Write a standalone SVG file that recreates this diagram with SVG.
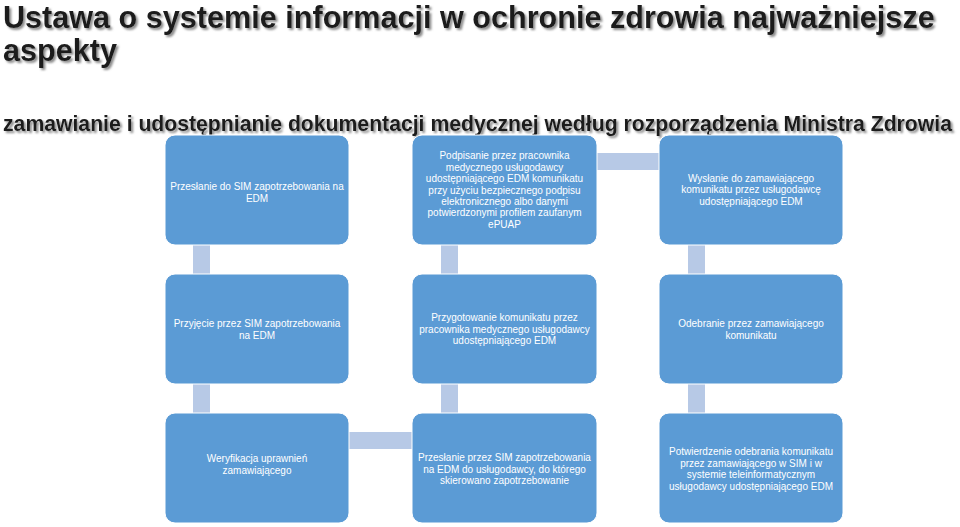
<svg xmlns="http://www.w3.org/2000/svg" width="960" height="527" viewBox="0 0 960 527">
<defs>
<filter id="sh" x="-5%" y="-20%" width="110%" height="150%">
<feDropShadow dx="2" dy="2" stdDeviation="0.8" flood-color="#7f7f7f" flood-opacity="0.9"/>
</filter>
</defs>
<style>
.t{font-family:"Liberation Sans",Arial,sans-serif;font-weight:bold;fill:#1a1a1a}
.box{fill:#5b9bd5;stroke:#ffffff;stroke-width:1}
.lbl{font-family:"Liberation Sans",Arial,sans-serif;font-size:10px;fill:#ffffff;text-anchor:middle}
.con{fill:#b7c9e6}
</style>
<rect width="960" height="527" fill="#ffffff"/>
<g id="title" filter="url(#sh)">
<text class="t" x="3" y="28" font-size="30.6">Ustawa o systemie informacji w ochronie zdrowia najważniejsze</text>
<text class="t" x="3" y="61" font-size="30.6">aspekty</text>
<text class="t" x="3" y="131" font-size="21.2">zamawianie i udostępnianie dokumentacji medycznej według rozporządzenia Ministra Zdrowia</text>
</g>
<g id="connectors">
<rect class="con" x="193" y="245" width="17" height="29"/>
<rect class="con" x="193" y="384" width="17" height="29"/>
<rect class="con" x="441" y="245" width="17" height="29"/>
<rect class="con" x="441" y="384" width="17" height="29"/>
<rect class="con" x="688" y="245" width="17" height="29"/>
<rect class="con" x="688" y="384" width="17" height="29"/>
<rect class="con" x="597" y="153" width="62" height="17"/>
<rect class="con" x="349" y="432" width="63" height="17"/>
</g>
<g id="n1">
<rect class="box" x="165" y="135" width="184" height="110" rx="10"/>
<text class="lbl"><tspan x="257" y="190">Przesłanie do SIM zapotrzebowania na</tspan><tspan x="257" y="201.5">EDM</tspan></text>
</g>
<g id="n2">
<rect class="box" x="412" y="135" width="185" height="110" rx="10"/>
<text class="lbl"><tspan x="504.5" y="159.2">Podpisanie przez pracownika</tspan><tspan x="504.5" y="170.6">medycznego usługodawcy</tspan><tspan x="504.5" y="182">udostępniającego EDM komunikatu</tspan><tspan x="504.5" y="193.5">przy użyciu bezpiecznego podpisu</tspan><tspan x="504.5" y="204.9">elektronicznego albo danymi</tspan><tspan x="504.5" y="216.3">potwierdzonymi profilem zaufanym</tspan><tspan x="504.5" y="227.8">ePUAP</tspan></text>
</g>
<g id="n3">
<rect class="box" x="659" y="135" width="184" height="110" rx="10"/>
<text class="lbl"><tspan x="751" y="181.8">Wysłanie do zamawiającego</tspan><tspan x="751" y="193.4">komunikatu przez usługodawcę</tspan><tspan x="751" y="205">udostępniającego EDM</tspan></text>
</g>
<g id="n4">
<rect class="box" x="165" y="274" width="184" height="110" rx="10"/>
<text class="lbl"><tspan x="257" y="327">Przyjęcie przez SIM zapotrzebowania</tspan><tspan x="257" y="339">na EDM</tspan></text>
</g>
<g id="n5">
<rect class="box" x="412" y="274" width="185" height="110" rx="10"/>
<text class="lbl"><tspan x="504.5" y="321">Przygotowanie komunikatu przez</tspan><tspan x="504.5" y="332.6">pracownika medycznego usługodawcy</tspan><tspan x="504.5" y="344.2">udostępniającego EDM</tspan></text>
</g>
<g id="n6">
<rect class="box" x="659" y="274" width="184" height="110" rx="10"/>
<text class="lbl"><tspan x="751" y="327">Odebranie przez zamawiającego</tspan><tspan x="751" y="339">komunikatu</tspan></text>
</g>
<g id="n7">
<rect class="box" x="165" y="413" width="184" height="110" rx="10"/>
<text class="lbl"><tspan x="257" y="462">Weryfikacja uprawnień</tspan><tspan x="257" y="473.5">zamawiającego</tspan></text>
</g>
<g id="n8">
<rect class="box" x="412" y="413" width="185" height="110" rx="10"/>
<text class="lbl"><tspan x="504.5" y="461">Przesłanie przez SIM zapotrzebowania</tspan><tspan x="504.5" y="472.6">na EDM do usługodawcy, do którego</tspan><tspan x="504.5" y="484.2">skierowano zapotrzebowanie</tspan></text>
</g>
<g id="n9">
<rect class="box" x="659" y="413" width="184" height="110" rx="10"/>
<text class="lbl"><tspan x="751" y="455">Potwierdzenie odebrania komunikatu</tspan><tspan x="751" y="466.6">przez zamawiającego w SIM i w</tspan><tspan x="751" y="478.2">systemie teleinformatycznym</tspan><tspan x="751" y="489.8">usługodawcy udostępniającego EDM</tspan></text>
</g>
</svg>
